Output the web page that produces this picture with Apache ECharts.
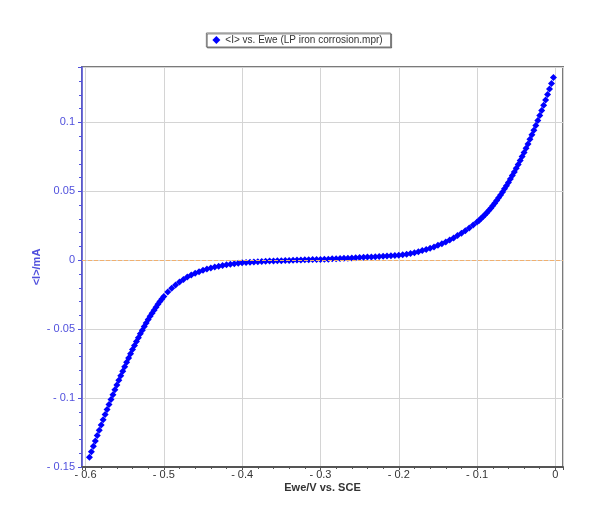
<!DOCTYPE html>
<html>
<head>
<meta charset="utf-8">
<script src="https://cdn.jsdelivr.net/npm/echarts@6/dist/echarts.min.js"></script>
<style>
  html, body { margin: 0; padding: 0; background: #fff; }
  #chart { width: 595px; height: 514px; }
</style>
</head>
<body>
<div id="chart"></div>
<script>
// potential Ewe (V vs. SCE)
const potential = [
  -0.595, -0.5925, -0.59, -0.5875, -0.585, -0.5825, -0.58, -0.5775, -0.575, -0.5725,
  -0.57, -0.5675, -0.565, -0.5625, -0.56, -0.5575, -0.555, -0.5525, -0.55, -0.5475,
  -0.545, -0.5425, -0.54, -0.5375, -0.535, -0.5325, -0.53, -0.5275, -0.525, -0.5225,
  -0.52, -0.5175, -0.515, -0.5125, -0.51, -0.5075, -0.505, -0.5025, -0.5,
  -0.495, -0.49, -0.485, -0.48, -0.475, -0.47, -0.465, -0.46, -0.455, -0.45,
  -0.445, -0.44, -0.435, -0.43, -0.425, -0.42, -0.415, -0.41, -0.405, -0.4,
  -0.395, -0.39, -0.385, -0.38, -0.375, -0.37, -0.365, -0.36, -0.355, -0.35,
  -0.345, -0.34, -0.335, -0.33, -0.325, -0.32, -0.315, -0.31, -0.305, -0.3,
  -0.295, -0.29, -0.285, -0.28, -0.275, -0.27, -0.265, -0.26, -0.255, -0.25,
  -0.245, -0.24, -0.235, -0.23, -0.225, -0.22, -0.215, -0.21, -0.205, -0.2,
  -0.195, -0.19, -0.185, -0.18, -0.175, -0.17, -0.165, -0.16, -0.155, -0.15,
  -0.145, -0.14, -0.135, -0.13, -0.125, -0.12, -0.115, -0.11, -0.105, -0.1,
  -0.0975, -0.095, -0.0925, -0.09, -0.0875, -0.085, -0.0825, -0.08, -0.0775, -0.075,
  -0.0725, -0.07, -0.0675, -0.065, -0.0625, -0.06, -0.0575, -0.055, -0.0525, -0.05,
  -0.0475, -0.045, -0.0425, -0.04, -0.0375, -0.035, -0.0325, -0.03, -0.0275, -0.025,
  -0.0225, -0.02, -0.0175, -0.015, -0.0125, -0.01, -0.0075, -0.005, -0.0025
];
// current <I> (mA)
const current = [
  -0.1430, -0.1390, -0.1350, -0.1311, -0.1272, -0.1233, -0.1195, -0.1157, -0.1120, -0.1083,
  -0.1047, -0.1011, -0.0975, -0.0940, -0.0905, -0.0871, -0.0838, -0.0805, -0.0772, -0.0740,
  -0.0709, -0.0678, -0.0648, -0.0619, -0.0590, -0.0562, -0.0534, -0.0507, -0.0481, -0.0455,
  -0.0430, -0.0407, -0.0384, -0.0362, -0.0341, -0.0320, -0.0300, -0.0281, -0.0263,
  -0.0231, -0.0203, -0.0179, -0.0158, -0.0139, -0.0122, -0.0107, -0.0094, -0.0083, -0.0073,
  -0.0064, -0.0056, -0.0049, -0.0043, -0.0038, -0.0033, -0.0029, -0.0025, -0.0022, -0.0019,
  -0.0017, -0.0015, -0.0013, -0.0011, -0.0009, -0.0008, -0.0006, -0.0005, -0.0004, -0.0003,
  -0.0002, -0.0001, 0.0000, 0.0001, 0.0002, 0.0003, 0.0004, 0.0005, 0.0005, 0.0006,
  0.0007, 0.0008, 0.0010, 0.0011, 0.0012, 0.0014, 0.0015, 0.0017, 0.0018, 0.0020,
  0.0021, 0.0023, 0.0024, 0.0026, 0.0027, 0.0029, 0.0031, 0.0033, 0.0035, 0.0037,
  0.0040, 0.0044, 0.0049, 0.0055, 0.0062, 0.0070, 0.0078, 0.0087, 0.0097, 0.0108,
  0.0120, 0.0133, 0.0147, 0.0162, 0.0179, 0.0196, 0.0214, 0.0234, 0.0255, 0.0277,
  0.0289, 0.0302, 0.0316, 0.0330, 0.0345, 0.0361, 0.0378, 0.0396, 0.0414, 0.0433,
  0.0453, 0.0474, 0.0495, 0.0518, 0.0540, 0.0564, 0.0589, 0.0614, 0.0640, 0.0667,
  0.0695, 0.0723, 0.0752, 0.0782, 0.0813, 0.0844, 0.0877, 0.0910, 0.0944, 0.0978,
  0.1014, 0.1050, 0.1087, 0.1124, 0.1163, 0.1202, 0.1242, 0.1283, 0.1325
];
const seriesName = '<I> vs. Ewe (LP iron corrosion.mpr)';
const xTickStep = 0.1;
const yTickStep = 0.05;

const points = potential.map((e, i) => [e, current[i]]);

// labels look like "- 0.05", and the extent ticks get no label
function tickLabel(step) {
  return function (v) {
    const k = v / step;
    if (Math.abs(k - Math.round(k)) > 1e-6) return '';
    const r = Math.round(k) * step;
    if (Math.abs(r) < 1e-9) return '0';
    const s = String(+Math.abs(r).toFixed(4));
    return r < 0 ? '- ' + s : s;
  };
}

const chart = echarts.init(document.getElementById('chart'));
const font = 'Liberation Sans, Arial, sans-serif';

chart.setOption({
  animation: false,
  backgroundColor: '#fff',
  textStyle: { fontFamily: font },
  legend: {
    data: [{ name: seriesName, icon: 'diamond' }],
    left: 'center',
    top: 33,
    padding: [2, 8, 2, 6],
    itemGap: 4,
    itemWidth: 8,
    itemHeight: 8,
    borderColor: '#777',
    borderWidth: 1,
    shadowColor: 'rgba(0,0,0,0.4)',
    shadowOffsetX: 1,
    shadowOffsetY: 1,
    backgroundColor: '#fff',
    textStyle: { fontSize: 10, color: '#333', fontFamily: font }
  },
  grid: {
    left: 82, right: 32, top: 67, bottom: 47,
    show: true,
    borderColor: '#7a7a7a',
    borderWidth: 2
  },
  xAxis: {
    type: 'value',
    min: -0.6045,
    max: 0.0097,
    splitNumber: 6,
    name: 'Ewe/V vs. SCE',
    nameLocation: 'middle',
    nameGap: 15,
    nameMoveOverlap: false,
    nameTextStyle: { fontSize: 11, fontWeight: 'bold', color: '#333', fontFamily: font },
    axisLine: { onZero: false, lineStyle: { color: '#555', width: 2 } },
    axisTick: { show: true, length: 3, lineStyle: { color: '#555' } },
    minorTick: { show: true, splitNumber: 5, length: 2, lineStyle: { color: '#555' } },
    axisLabel: { fontSize: 11, color: '#333', margin: 2, formatter: tickLabel(xTickStep), showMinLabel: false, showMaxLabel: false },
    splitLine: { show: true, lineStyle: { color: '#d4d4d4', width: 1 } }
  },
  yAxis: {
    type: 'value',
    min: -0.15,
    max: 0.1402,
    splitNumber: 6,
    name: '<I>/mA',
    nameLocation: 'middle',
    nameGap: 40,
    nameMoveOverlap: false,
    nameTextStyle: { fontSize: 11, fontWeight: 'bold', color: '#5050dd', fontFamily: font },
    axisLine: { onZero: false, lineStyle: { color: '#5050dd', width: 1.5 } },
    axisTick: { show: true, length: 4, lineStyle: { color: '#5050dd' } },
    minorTick: { show: true, splitNumber: 5, length: 3, lineStyle: { color: '#5050dd' } },
    axisLabel: { fontSize: 11, color: '#5050dd', margin: 7, formatter: tickLabel(yTickStep) },
    splitLine: { show: true, lineStyle: { color: '#d4d4d4', width: 1 } }
  },
  series: [{
    name: seriesName,
    type: 'scatter',
    symbol: 'diamond',
    symbolSize: 7,
    itemStyle: { color: '#0000ff', opacity: 1 },
    data: points,
    markLine: {
      silent: true,
      symbol: ['none', 'none'],
      label: { show: false },
      lineStyle: { color: '#f0b070', type: 'dashed', width: 1 },
      data: [{ yAxis: 0 }]
    }
  }]
});
</script>
</body>
</html>
